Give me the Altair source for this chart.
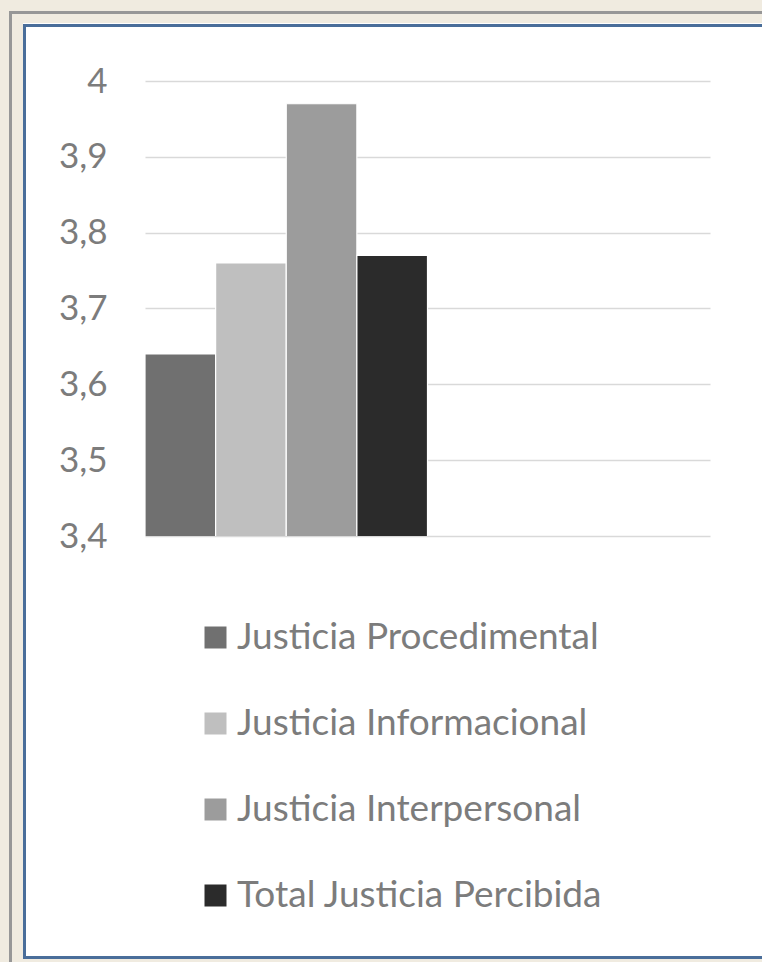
import altair as alt
import pandas as pd

# Series and their mean scores
series = [
    "Justicia Procedimental",
    "Justicia Informacional",
    "Justicia Interpersonal",
    "Total Justicia Percibida",
]
scores = [3.64, 3.76, 3.97, 3.77]
bar_colors = ["#707070", "#bfbfbf", "#9c9c9c", "#2b2b2b"]
y_ticks = [3.4, 3.5, 3.6, 3.7, 3.8, 3.9, 4.0]

FONT = "Lato"
TEXT_GRAY = "#7c7c7c"
BEIGE = "#f0ebe0"
FRAME_GRAY = "#979797"
PANEL_BLUE = "#4a6e9a"

# plot area origin inside the page
LEFT, TOP = 145, 81
PAGE_W, PAGE_H = 762, 962

df = pd.DataFrame({"grupo": ["A"] * len(series), "serie": series, "valor": scores})
one = pd.DataFrame({"k": [0]})


def box(x, y, x2, y2, color):
    """A filled decorative strip given in page pixels."""
    return alt.Chart(one).mark_rect(fill=color, strokeWidth=0).encode(
        x=alt.value(x - LEFT),
        x2=alt.value(x2 - LEFT),
        y=alt.value(y - TOP),
        y2=alt.value(y2 - TOP),
    )


# page surround: beige margins, outer gray frame lines, blue panel border
frame = [
    box(0, 0, PAGE_W, 23, BEIGE),
    box(0, 0, 23, PAGE_H, BEIGE),
    box(0, 959, PAGE_W, PAGE_H, BEIGE),
    box(9, 11, PAGE_W, 14, FRAME_GRAY),
    box(9, 11, 12, PAGE_H, FRAME_GRAY),
    box(23, 24, PAGE_W, 27, PANEL_BLUE),
    box(23, 24, 26, 959, PANEL_BLUE),
    box(23, 956, PAGE_W, 959, PANEL_BLUE),
]

bars = alt.Chart(df).mark_bar(stroke="white", strokeWidth=1.2, clip=True).encode(
    x=alt.X("grupo:N", scale=alt.Scale(domain=["A", "B"], paddingInner=0, paddingOuter=0), axis=None),
    xOffset=alt.XOffset("serie:N", sort=series,
                        scale=alt.Scale(domain=series, paddingInner=0, paddingOuter=0)),
    y=alt.Y(
        "valor:Q",
        scale=alt.Scale(domain=[3.4, 4.0], zero=False, nice=False),
        axis=alt.Axis(
            values=y_ticks,
            title=None,
            domain=False,
            ticks=False,
            grid=True,
            gridColor="#d9d9d9",
            gridWidth=1.5,
            labelFont=FONT,
            labelFontSize=35,
            labelColor=TEXT_GRAY,
            labelPadding=38,
            labelExpr="replace(format(datum.value, '.1~f'), '.', ',')",
        ),
    ),
    color=alt.Color(
        "serie:N",
        sort=series,
        scale=alt.Scale(domain=series, range=bar_colors),
        legend=alt.Legend(
            title=None,
            orient="none",
            legendX=52,
            legendY=538,
            direction="vertical",
            symbolType="square",
            symbolSize=484,
            symbolStrokeWidth=0,
            labelFont=FONT,
            labelFontSize=37,
            labelColor=TEXT_GRAY,
            labelOffset=3,
            rowPadding=48,
            labelLimit=600,
        ),
    ),
)

chart = alt.layer(*frame, bars).properties(
    width=565,
    height=455,
    padding={"left": LEFT, "top": TOP, "right": PAGE_W - LEFT - 565, "bottom": PAGE_H - TOP - 455},
    autosize=alt.AutoSizeParams(type="none"),
    background="white",
).configure_view(stroke=None)

chart.save("out.html", embed_options={"renderer": "svg", "actions": False})
